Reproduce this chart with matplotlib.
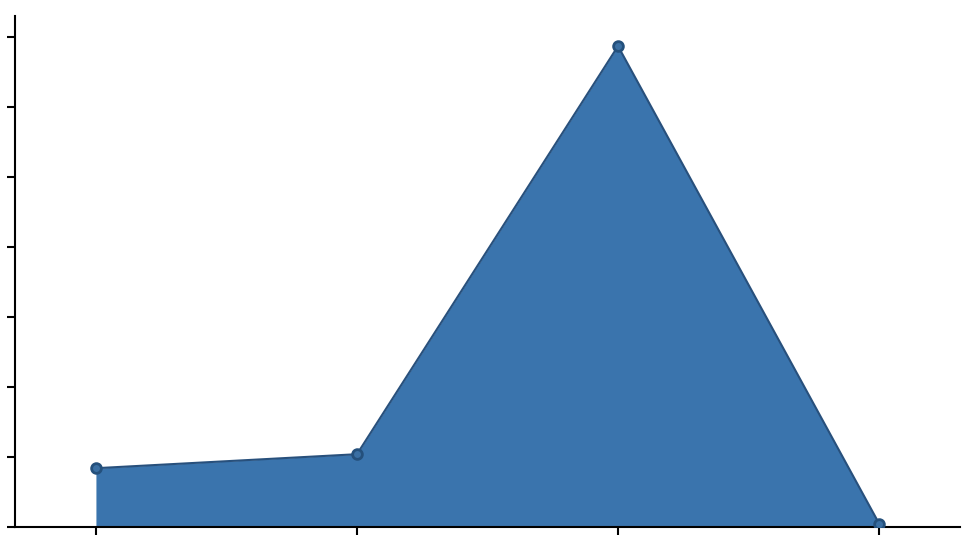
import matplotlib
matplotlib.use("Agg")
import matplotlib.pyplot as plt

categories = ["A", "B", "C", "D"]
values = [0.84, 1.04, 6.87, 0.05]
y_ticks = [0, 1, 2, 3, 4, 5, 6, 7]

W, H = 968, 550
fig = plt.figure(figsize=(W / 100, H / 100), dpi=100)
ax = fig.add_axes([15 / W, (H - 527) / H, (960 - 15) / W, (527 - 16) / H])

x = list(range(len(categories)))
ax.fill_between(x, values, 0, color="#3a74ad", linewidth=0, zorder=2)
ax.plot(x, values, color="#28507c", linewidth=1.5, zorder=3)
ax.plot(x, values, linestyle="none", marker="o", markersize=7,
        markerfacecolor="#3a6fa3", markeredgecolor="#24507c",
        markeredgewidth=2, zorder=4)

ax.set_xlim(-0.31, 3.31)
ax.set_ylim(0, 7.3)
ax.set_xticks(x)
ax.set_xticklabels([])
ax.set_yticks(y_ticks)
ax.set_yticklabels([])
for s in ["top", "right"]:
    ax.spines[s].set_visible(False)
for s in ["left", "bottom"]:
    ax.spines[s].set_linewidth(1.5)
    ax.spines[s].set_color("black")
ax.tick_params(axis="both", length=6, width=1.5, color="black")

fig.savefig("out.png", dpi=100)
